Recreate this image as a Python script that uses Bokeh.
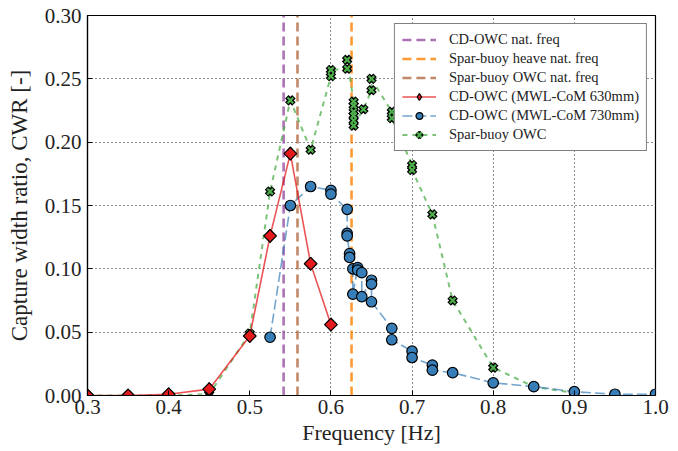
import math
from bokeh.plotting import figure
from bokeh.models import (Range1d, FixedTicker, NumeralTickFormatter, Legend, LegendItem)
from bokeh.embed import file_html
from bokeh.resources import INLINE

# ---------------- data ----------------
f_630 = [0.30, 0.35, 0.40, 0.45, 0.50, 0.525, 0.55, 0.575, 0.60]
cwr_630 = [0.000, 0.000, 0.001, 0.005, 0.047, 0.126, 0.191, 0.104, 0.056]

f_730 = [0.525, 0.55, 0.575, 0.60, 0.60, 0.62, 0.62, 0.62, 0.623, 0.623,
         0.627, 0.627, 0.633, 0.633, 0.638, 0.638, 0.65, 0.65, 0.65,
         0.675, 0.675, 0.70, 0.70, 0.725, 0.725, 0.75, 0.80, 0.85, 0.90, 0.95, 1.00]
cwr_730 = [0.046, 0.150, 0.165, 0.162, 0.159, 0.147, 0.128, 0.126, 0.112, 0.109,
           0.100, 0.080, 0.101, 0.099, 0.097, 0.078, 0.091, 0.088, 0.074,
           0.053, 0.044, 0.035, 0.030, 0.024, 0.020, 0.018, 0.010, 0.007, 0.003, 0.001, 0.001]

f_spar = [0.30, 0.35, 0.40, 0.45, 0.50, 0.525, 0.55, 0.575, 0.60, 0.60, 0.62, 0.62,
          0.628, 0.628, 0.628, 0.628, 0.628, 0.628, 0.64, 0.65, 0.65,
          0.675, 0.675, 0.70, 0.70, 0.725, 0.75, 0.80, 0.85, 0.90]
cwr_spar = [0.000, 0.000, 0.000, 0.001, 0.049, 0.161, 0.233, 0.194, 0.252, 0.257, 0.258, 0.265,
            0.232, 0.229, 0.224, 0.221, 0.217, 0.213, 0.226, 0.241, 0.250,
            0.224, 0.219, 0.182, 0.178, 0.143, 0.075, 0.022, 0.007, 0.002]

nat_freq_cdowc = 0.5417
nat_freq_spar_heave = 0.6254
nat_freq_spar_owc = 0.5588

x_ticks = [0.3, 0.4, 0.5, 0.6, 0.7, 0.8, 0.9, 1.0]
y_ticks = [0.00, 0.05, 0.10, 0.15, 0.20, 0.25, 0.30]
x_grid_ticks = [0.6, 0.7, 0.8, 0.9]
y_grid_ticks = [0.05, 0.10, 0.15, 0.20, 0.25]

x_label = "Frequency [Hz]"
y_label = "Capture width ratio, CWR [-]"

FONT = "'Liberation Serif', 'Times New Roman', serif"

# ---------------- figure ----------------
x_rng = Range1d(0.3, 1.0)
y_rng = Range1d(0.0, 0.30)
p = figure(width=670, height=450, output_backend="svg", toolbar_location=None,
           x_range=x_rng, y_range=y_rng,
           min_border_left=87, min_border_right=15, min_border_top=15, min_border_bottom=55)
p.background_fill_color = "white"
p.border_fill_color = "white"
p.outline_line_color = "black"
p.outline_line_width = 1.2

for ax, ticks, fmt, lab in ((p.xaxis[0], x_ticks, "0.0", x_label), (p.yaxis[0], y_ticks, "0.00", y_label)):
    ax.ticker = FixedTicker(ticks=ticks)
    ax.formatter = NumeralTickFormatter(format=fmt)
    ax.axis_label = lab
    ax.axis_label_text_font = FONT
    ax.axis_label_text_font_style = "normal"
    ax.axis_label_text_color = "#222222"
    ax.major_label_text_font = FONT
    ax.major_label_text_font_size = "21px"
    ax.major_label_text_color = "#222222"
    ax.major_tick_in = 5
    ax.major_tick_out = 0
    ax.minor_tick_in = 0
    ax.minor_tick_out = 0
    ax.axis_line_color = "black"
    ax.axis_line_width = 1.2
p.xaxis[0].axis_label_text_font_size = "22px"
p.yaxis[0].axis_label_text_font_size = "23px"
p.xaxis[0].major_label_standoff = 4
p.xaxis[0].axis_label_standoff = 3
p.yaxis[0].major_label_standoff = 6
p.yaxis[0].axis_label_standoff = 10

p.xgrid.ticker = FixedTicker(ticks=x_grid_ticks)
p.ygrid.ticker = FixedTicker(ticks=y_grid_ticks)
for g in (p.xgrid[0], p.ygrid[0]):
    g.grid_line_color = "black"
    g.grid_line_dash = "1 3"
    g.grid_line_width = 1
    g.grid_line_alpha = 0.9

# natural frequency lines
r_nat1 = p.segment(x0=[nat_freq_cdowc], y0=[y_rng.start], x1=[nat_freq_cdowc], y1=[y_rng.end],
                   line_color="#984ea3", line_alpha=0.8, line_width=2.6, line_dash="9 5")
r_nat2 = p.segment(x0=[nat_freq_spar_heave], y0=[y_rng.start], x1=[nat_freq_spar_heave], y1=[y_rng.end],
                   line_color="#ff7f00", line_alpha=0.8, line_width=2.6, line_dash="9 5")
r_nat3 = p.segment(x0=[nat_freq_spar_owc], y0=[y_rng.start], x1=[nat_freq_spar_owc], y1=[y_rng.end],
                   line_color="#a65628", line_alpha=0.7, line_width=2.6, line_dash="9 5")

# spar-buoy
r_sl = p.line(f_spar, cwr_spar, line_color="#4daf4a", line_alpha=0.75, line_width=2, line_dash="5 5")
r_sm1 = p.scatter(f_spar, cwr_spar, marker="x", size=10, line_color="black", line_width=5)
r_sm2 = p.scatter(f_spar, cwr_spar, marker="x", size=8, line_color="#4daf4a", line_width=2.2)

# 730 mm
r_bl = p.line(f_730, cwr_730, line_color="#377eb8", line_alpha=0.7, line_width=1.6, line_dash="10 4")
r_bm = p.scatter(f_730, cwr_730, marker="circle", size=10.5, fill_color="#377eb8",
                 line_color="black", line_width=1.2)

# 630 mm
r_rl = p.line(f_630, cwr_630, line_color="#e41a1c", line_alpha=0.75, line_width=1.6)
r_rm_leg = p.scatter(f_630, cwr_630, marker="diamond", size=13, fill_color="#e41a1c",
                     line_color="black", line_width=1.2)
r_rm = p.scatter(f_630, cwr_630, marker="square", angle=math.pi / 4, size=9,
                 fill_color="#e41a1c", line_color="black", line_width=1.2)

legend = Legend(items=[
    LegendItem(label="CD-OWC nat. freq", renderers=[r_nat1]),
    LegendItem(label="Spar-buoy heave nat. freq", renderers=[r_nat2]),
    LegendItem(label="Spar-buoy OWC nat. freq", renderers=[r_nat3]),
    LegendItem(label="CD-OWC (MWL-CoM 630mm)", renderers=[r_rl, r_rm_leg]),
    LegendItem(label="CD-OWC (MWL-CoM 730mm)", renderers=[r_bl, r_bm]),
    LegendItem(label="Spar-buoy OWC", renderers=[r_sl, r_sm1, r_sm2]),
], location="top_right")
legend.border_line_color = "black"
legend.border_line_width = 1.5
legend.background_fill_color = "white"
legend.background_fill_alpha = 1.0
legend.label_text_font = FONT
legend.label_text_font_size = "14.5px"
legend.label_text_color = "#222222"
legend.glyph_width = 34
legend.glyph_height = 17
legend.label_height = 17
legend.spacing = 2
legend.padding = 7
legend.margin = 8
legend.label_standoff = 13
p.add_layout(legend)

open("out.html", "w").write(file_html(p, INLINE))
